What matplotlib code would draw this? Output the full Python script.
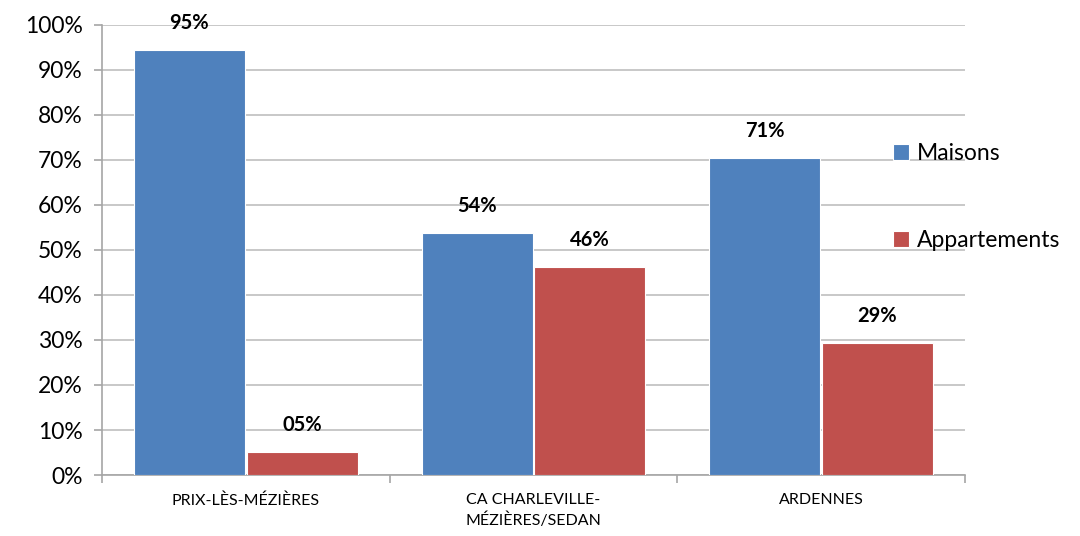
import matplotlib
matplotlib.use('Agg')
import matplotlib.pyplot as plt
import numpy as np

categories = ['PRIX-LÈS-MÉZIÈRES', 'CA CHARLEVILLE-\nMÉZIÈRES/SEDAN', 'ARDENNES']
maisons = [94.5, 53.8, 70.5]
appartements = [5.2, 46.2, 29.4]
maisons_labels = ['95%', '54%', '71%']
appartements_labels = ['05%', '46%', '29%']

plt.rcParams['font.family'] = ['Lato', 'DejaVu Sans']

fig = plt.figure(figsize=(10.8, 5.36), dpi=100)
ax = fig.add_axes([0.0944, 0.1138, 0.799, 0.8396])

x = np.arange(len(categories))
w = 0.386
b1 = ax.bar(x - w / 2 - 0.003, maisons, w, color='#4F81BD', edgecolor='white',
            linewidth=0.8, label='Maisons', zorder=3)
b2 = ax.bar(x + w / 2 + 0.003, appartements, w, color='#C0504D', edgecolor='white',
            linewidth=0.8, label='Appartements', zorder=3)

for bars, labels in ((b1, maisons_labels), (b2, appartements_labels)):
    for rect, lab in zip(bars, labels):
        ax.annotate(lab, (rect.get_x() + rect.get_width() / 2, rect.get_height()),
                    xytext=(0, 12), textcoords='offset points', ha='center',
                    va='bottom', fontsize=14.5, fontweight='bold', color='black',
                    zorder=4)

ax.set_xlim(-0.5, 2.5)
ax.set_ylim(0, 100)
ax.set_yticks(range(0, 101, 10))
ax.set_yticklabels([f'{v}%' for v in range(0, 101, 10)], fontsize=16.5)
ax.yaxis.grid(True, color='#BFBFBF', linewidth=1.2, zorder=0)
ax.set_axisbelow(True)

ax.set_xticks([-0.5, 0.5, 1.5, 2.5])
ax.set_xticklabels([])
ax.set_xticks(x, minor=True)
ax.set_xticklabels(categories, minor=True, fontsize=11.5, linespacing=1.4)
ax.tick_params(axis='x', which='minor', length=0, pad=13)
ax.tick_params(axis='x', which='major', length=6, width=1.2, color='#A6A6A6')
ax.tick_params(axis='y', length=6, width=1.2, color='#A6A6A6', pad=8)

for s in ('top', 'right'):
    ax.spines[s].set_visible(False)
for s in ('left', 'bottom'):
    ax.spines[s].set_color('#A6A6A6')
    ax.spines[s].set_linewidth(1.2)

fig.legend(loc='upper left', bbox_to_anchor=(0.808, 0.772), frameon=False,
           fontsize=16.5, handlelength=0.7, handleheight=0.7, handletextpad=0.35,
           labelspacing=2.9)

fig.savefig('out.png', dpi=100)
